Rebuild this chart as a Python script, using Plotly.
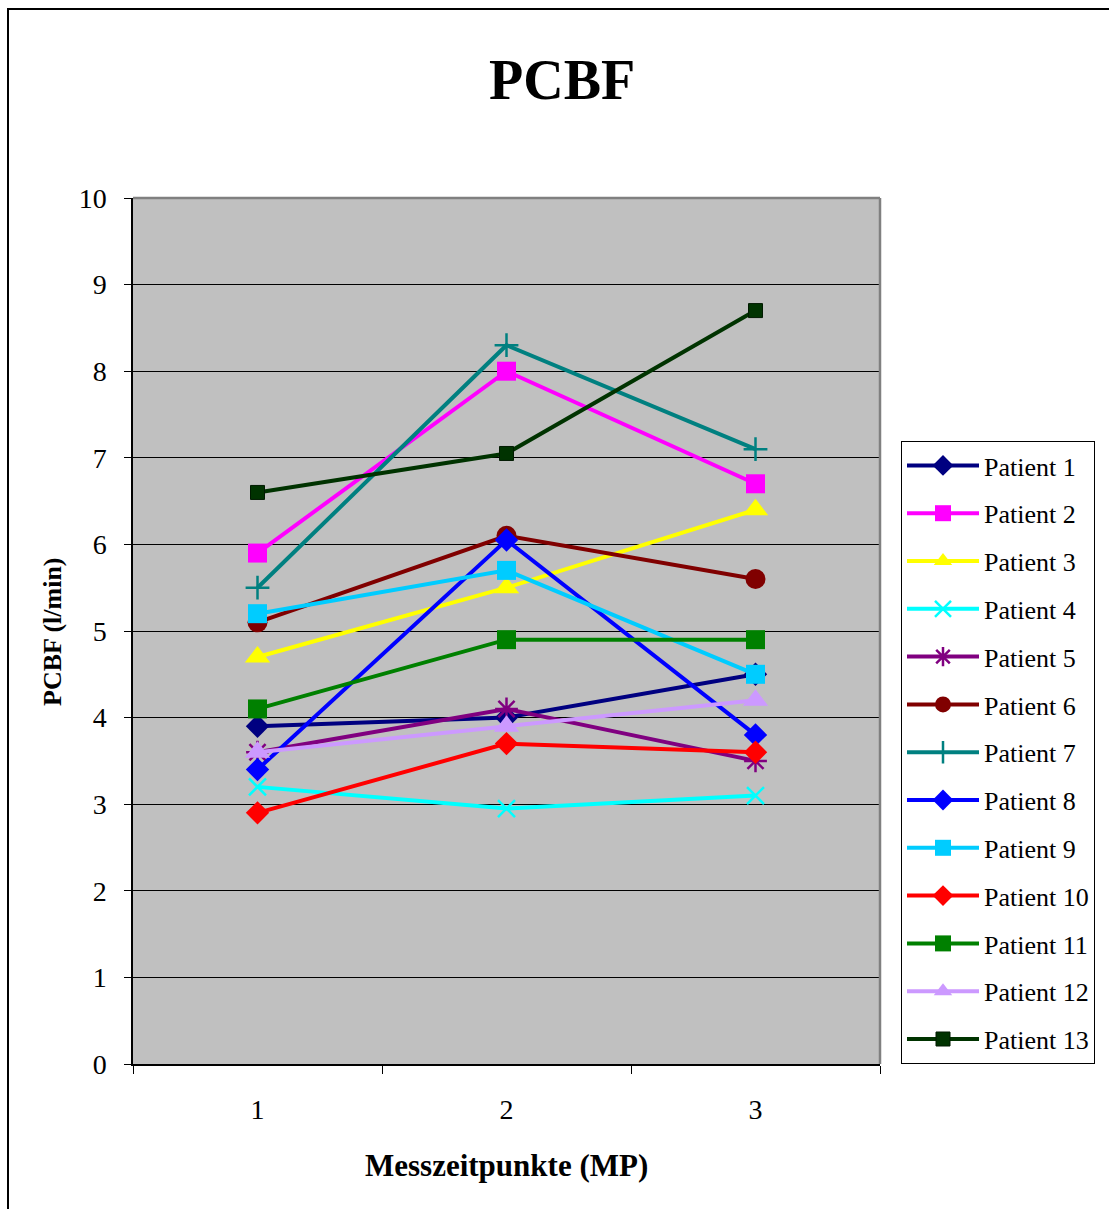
import plotly.graph_objects as go

categories = ["1", "2", "3"]
patients = [f"Patient {i}" for i in range(1, 14)]
values = {
    "Patient 1": [3.9, 4.0, 4.5],
    "Patient 2": [5.9, 8.0, 6.7],
    "Patient 3": [4.7, 5.5, 6.4],
    "Patient 4": [3.2, 2.95, 3.1],
    "Patient 5": [3.6, 4.1, 3.5],
    "Patient 6": [5.1, 6.1, 5.6],
    "Patient 7": [5.5, 8.3, 7.1],
    "Patient 8": [3.4, 6.05, 3.8],
    "Patient 9": [5.2, 5.7, 4.5],
    "Patient 10": [2.9, 3.7, 3.6],
    "Patient 11": [4.1, 4.9, 4.9],
    "Patient 12": [3.6, 3.9, 4.2],
    "Patient 13": [6.6, 7.05, 8.7],
}
colors = ["#000080", "#FF00FF", "#FFFF00", "#00FFFF", "#800080", "#800000", "#008080",
          "#0000FF", "#00CCFF", "#FF0000", "#008000", "#CC99FF", "#003300"]
symbols = ["diamond", "square", "triangle-up", "x-thin", "asterisk", "circle", "cross-thin",
           "diamond", "square", "diamond", "square", "triangle-up", "square"]
sizes = [18, 19, 22, 17, 19, 20, 17, 18, 19, 18, 19, 22, 14]

# plot area pixel geometry
W, H = 1109, 1209
L, R, T, B = 133, 880, 198, 1064
pw, ph = R - L, B - T


def px(x):
    return (x - L) / pw


def py(y):
    return (B - y) / ph


fig = go.Figure()
for i, name in enumerate(patients):
    sym = symbols[i]
    thin = sym in ("x-thin", "asterisk", "cross-thin")
    marker = dict(symbol=sym, size=sizes[i], color=colors[i],
                  line=dict(width=2.5 if thin else 0, color=colors[i]))
    if name == "Patient 13":
        marker["line"] = dict(width=1, color="#001a00")
    fig.add_trace(go.Scatter(
        x=categories, y=values[name], name=name, mode="lines+markers",
        line=dict(color=colors[i], width=4), marker=marker, legendgroup=name,
    ))

fig.update_layout(
    width=W, height=H,
    margin=dict(l=L, r=W - R, t=T, b=H - B, pad=0),
    paper_bgcolor="white", plot_bgcolor="#C0C0C0",
    font=dict(family="Liberation Serif, Times New Roman, serif", color="black"),
    showlegend=True,
    legend=dict(x=px(901), y=py(441), xanchor="left", yanchor="top",
                bordercolor="black", borderwidth=1, bgcolor="white",
                font=dict(size=26, family="Liberation Serif"),
                tracegroupgap=11, itemwidth=72),
    xaxis=dict(type="category", range=[-0.5, 2.5], tickson="boundaries",
               ticks="outside", ticklen=8, tickwidth=1, tickcolor="black",
               showline=True, linecolor="black", linewidth=1.5, showgrid=False,
               tickfont=dict(size=28), ticklabelstandoff=20, zeroline=False),
    yaxis=dict(range=[0, 10], dtick=1, ticks="outside", ticklen=7, tickwidth=1,
               tickcolor="black", showline=True, linecolor="black", linewidth=1.5,
               showgrid=True, gridcolor="black", gridwidth=1, zeroline=False,
               tickfont=dict(size=28), ticklabelstandoff=12),
    shapes=[
        dict(type="line", xref="paper", yref="paper", x0=0, x1=1, y0=1, y1=1,
             line=dict(color="#808080", width=2.5)),
        dict(type="line", xref="paper", yref="paper", x0=1, x1=1, y0=0, y1=1,
             line=dict(color="#808080", width=2.5)),
        dict(type="rect", xref="paper", yref="paper", x0=px(8), x1=px(1120),
             y0=py(1220), y1=py(9), line=dict(color="black", width=2)),
    ],
    annotations=[
        dict(text="<b>PCBF</b>", xref="paper", yref="paper", x=px(562), y=py(80),
             xanchor="center", yanchor="middle", showarrow=False,
             font=dict(size=56, family="Liberation Serif")),
        dict(text="<b>Messzeitpunkte (MP)</b>", xref="paper", yref="paper",
             x=0.5, y=py(1165), xanchor="center", yanchor="middle", showarrow=False,
             font=dict(size=31, family="Liberation Serif")),
        dict(text="<b>PCBF (l/min)</b>", xref="paper", yref="paper", x=px(52),
             y=py(632), xanchor="center", yanchor="middle", showarrow=False,
             textangle=-90, font=dict(size=26, family="Liberation Serif")),
    ],
)

fig.write_html("out.html")
